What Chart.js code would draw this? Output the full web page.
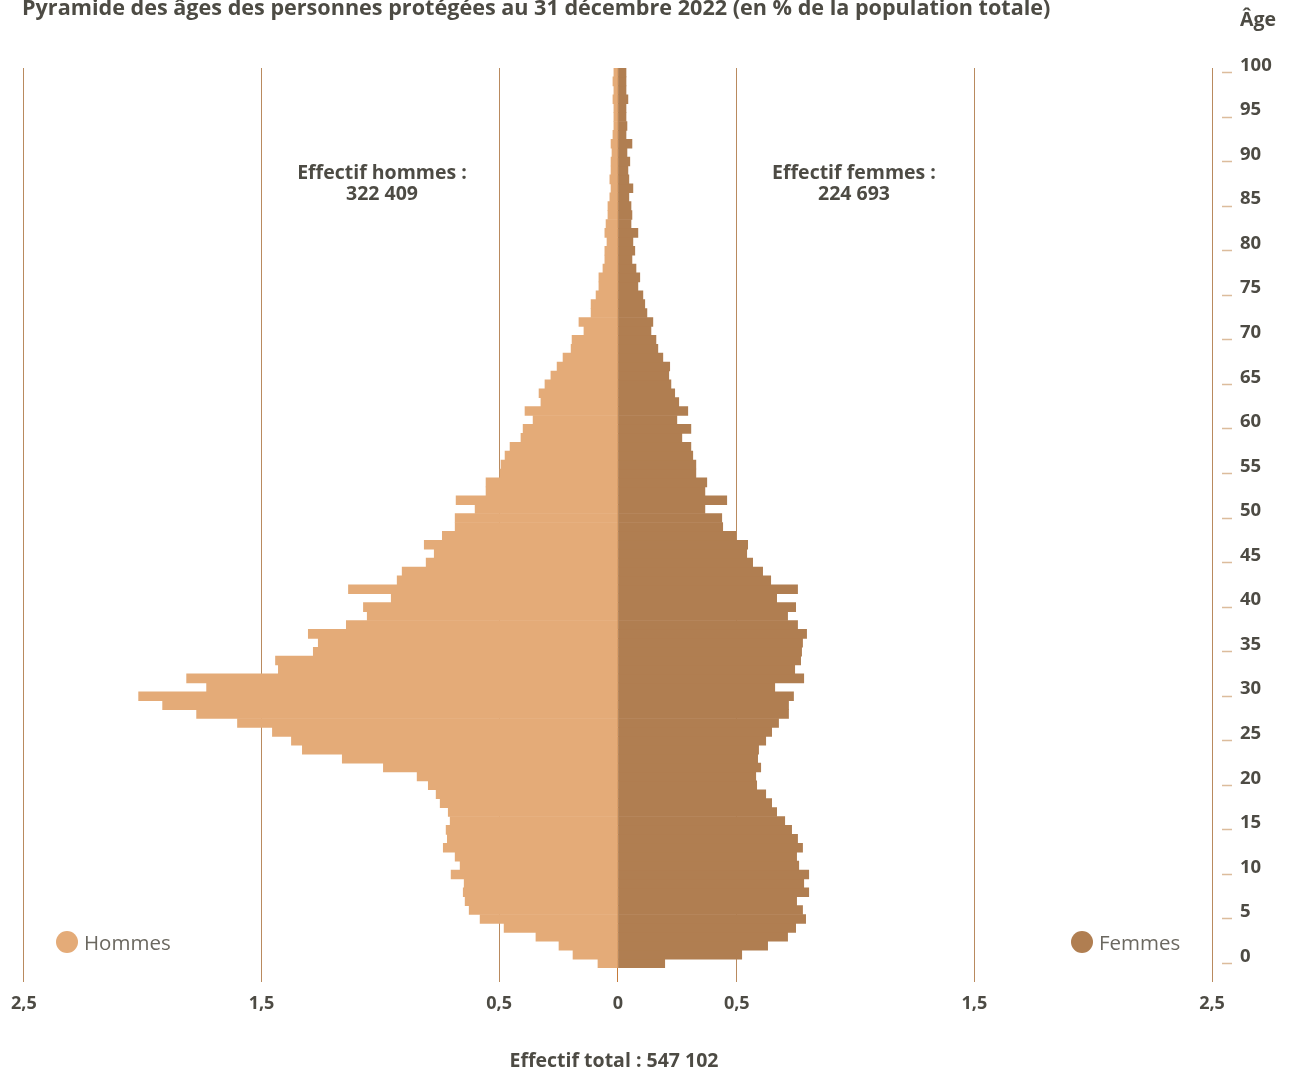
<!DOCTYPE html>
<html lang="fr">
<head>
<meta charset="utf-8">
<title>Pyramide des âges des personnes protégées</title>
<script src="https://cdn.jsdelivr.net/npm/chart.js@4.4.0/dist/chart.umd.min.js"></script>
<style>
    html, body { margin: 0; padding: 0; background: #fff; }
    #wrap { position: relative; width: 1293px; height: 1076px; overflow: hidden; font-family: 'Open Sans', sans-serif; color: #4d4b44; }
    #chart { position: absolute; left: 0; top: 0; }
    .lbl { position: absolute; font-weight: 700; font-size: 19.5px; line-height: 21px; white-space: nowrap; }
    .center { transform: translateX(-50%); text-align: center; }
    .legend { position: absolute; display: flex; align-items: center; font-size: 20.5px; color: #6b6860; white-space: nowrap; }
    .dot { width: 22px; height: 22px; border-radius: 50%; margin-right: 6px; }
</style>
</head>
<body>
<div id="wrap">
    <canvas id="chart" width="1293" height="1076"></canvas>
    <div class="lbl" style="left:22px; top:-4px; font-size:21.6px;">Pyramide des âges des personnes protégées au 31 décembre 2022 (en % de la population totale)</div>
    <div class="lbl" style="left:1240px; top:8px;">Âge</div>
    <div class="lbl center" style="left:382px; top:161px;">Effectif hommes :<br>322 409</div>
    <div class="lbl center" style="left:854px; top:161px;">Effectif femmes :<br>224 693</div>
    <div class="lbl center" style="left:614px; top:1049px;">Effectif total : 547 102</div>
    <div class="legend" style="left:56px; top:928px;"><span class="dot" style="background:#e4ab78"></span>Hommes</div>
    <div class="legend" style="left:1071px; top:928px;"><span class="dot" style="background:#b07e51"></span>Femmes</div>
</div>
<script>
// ages 0..100 (categories)
const ages = Array.from({ length: 101 }, (_, i) => i);

// % of total population, index = age
const hommes = [
    0.084, 0.189, 0.248, 0.345, 0.479, 0.580, 0.626, 0.643, 0.651, 0.647,
    0.702, 0.664, 0.685, 0.735, 0.718, 0.723, 0.706, 0.714, 0.748, 0.765,
    0.798, 0.845, 0.987, 1.160, 1.328, 1.374, 1.454, 1.601, 1.773, 1.916,
    2.017, 1.731, 1.815, 1.429, 1.441, 1.282, 1.261, 1.303, 1.143, 1.055,
    1.071, 0.954, 1.134, 0.929, 0.908, 0.807, 0.773, 0.815, 0.739, 0.685,
    0.685, 0.601, 0.681, 0.555, 0.555, 0.496, 0.492, 0.475, 0.454, 0.408,
    0.399, 0.357, 0.391, 0.324, 0.332, 0.307, 0.282, 0.256, 0.231, 0.197,
    0.193, 0.143, 0.164, 0.113, 0.113, 0.092, 0.080, 0.080, 0.063, 0.055,
    0.055, 0.046, 0.055, 0.050, 0.042, 0.042, 0.034, 0.029, 0.034, 0.029,
    0.029, 0.025, 0.029, 0.021, 0.017, 0.017, 0.017, 0.021, 0.017, 0.021,
    0.017
];

const femmes = [
    0.197, 0.521, 0.630, 0.714, 0.748, 0.790, 0.777, 0.752, 0.803, 0.782,
    0.803, 0.761, 0.752, 0.777, 0.756, 0.731, 0.702, 0.668, 0.647, 0.622,
    0.584, 0.580, 0.601, 0.588, 0.592, 0.622, 0.647, 0.676, 0.718, 0.718,
    0.739, 0.660, 0.782, 0.744, 0.769, 0.773, 0.777, 0.794, 0.756, 0.714,
    0.748, 0.668, 0.756, 0.643, 0.609, 0.567, 0.542, 0.546, 0.496, 0.441,
    0.437, 0.366, 0.458, 0.366, 0.374, 0.328, 0.328, 0.315, 0.307, 0.269,
    0.307, 0.248, 0.294, 0.256, 0.239, 0.223, 0.214, 0.218, 0.189, 0.168,
    0.160, 0.139, 0.147, 0.122, 0.113, 0.105, 0.084, 0.092, 0.076, 0.059,
    0.071, 0.063, 0.084, 0.055, 0.059, 0.055, 0.046, 0.063, 0.046, 0.042,
    0.050, 0.038, 0.059, 0.034, 0.038, 0.034, 0.034, 0.042, 0.034, 0.034,
    0.034
];

const xTicks = [-2.5, -1.5, -0.5, 0, 0.5, 1.5, 2.5];

const textColor = '#4d4b44';
const gridColor = '#b98a5e';

const ctx = document.getElementById('chart').getContext('2d');
new Chart(ctx, {
    type: 'bar',
    data: {
        labels: ages,
        datasets: [
            {
                label: 'Hommes',
                data: hommes.map(v => -v),
                backgroundColor: '#e4ab78',
                borderWidth: 0,
                barPercentage: 1,
                categoryPercentage: 1
            },
            {
                label: 'Femmes',
                data: femmes,
                backgroundColor: '#b07e51',
                borderWidth: 0,
                barPercentage: 1,
                categoryPercentage: 1
            }
        ]
    },
    options: {
        indexAxis: 'y',
        responsive: false,
        animation: false,
        devicePixelRatio: 1,
        layout: { padding: { top: 68, left: 22, right: 0, bottom: 0 } },
        plugins: { legend: { display: false }, tooltip: { enabled: false } },
        scales: {
            x: {
                type: 'linear',
                min: -2.5,
                max: 2.5,
                stacked: true,
                afterBuildTicks: axis => { axis.ticks = xTicks.map(v => ({ value: v })); },
                afterFit: axis => { axis.height = 108; },
                border: { display: false },
                grid: {
                    color: xTicks.map(v => v === 0 ? '#c47a3a' : gridColor),
                    lineWidth: 1,
                    drawTicks: true,
                    tickLength: 14
                },
                ticks: {
                    padding: 11,
                    color: textColor,
                    font: { family: 'Open Sans', weight: 'bold', size: 18 },
                    callback: v => String(Math.abs(v)).replace('.', ',')
                }
            },
            y: {
                position: 'right',
                stacked: true,
                reverse: true,
                afterFit: axis => { axis.width = 81; },
                border: { display: false },
                grid: {
                    offset: false,
                    drawOnChartArea: false,
                    drawTicks: true,
                    tickLength: 20,
                    tickColor: '#dcbc9c',
                    tickWidth: 1.5,
                    tickBorderDash: [0, 10, 10, 0]
                },
                ticks: {
                    autoSkip: false,
                    padding: 8,
                    labelOffset: -7,
                    color: textColor,
                    font: { family: 'Open Sans', weight: 'bold', size: 18.5 },
                    callback: (v, i) => ages[i] % 5 === 0 ? String(ages[i]) : null
                }
            }
        }
    }
});
</script>
</body>
</html>
